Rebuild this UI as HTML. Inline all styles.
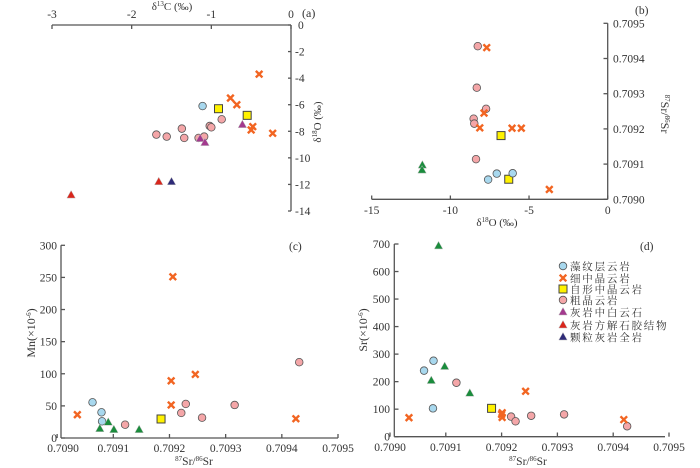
<!DOCTYPE html>
<html><head><meta charset="utf-8"><style>
html,body{margin:0;padding:0;background:#fff;}
svg{display:block;font-family:"Liberation Serif","Times New Roman",serif;}
.lg{font-family:"Liberation Serif","Noto Serif CJK SC",serif;font-size:10.5px;letter-spacing:1.8px;fill:#333}
</style></head><body>
<svg id="chart" width="700" height="468" viewBox="0 0 700 468" xmlns="http://www.w3.org/2000/svg"></svg>
<script>
// ---- data (panel a: δ13C vs δ18O) ----
const aBlueX=[-1.11], aBlueY=[-6.1];
const aYelX=[-0.91,-0.55], aYelY=[-6.3,-6.8];
const aOrX=[-0.40,-0.76,-0.68,-0.48,-0.50,-0.23], aOrY=[-3.7,-5.5,-6.0,-7.65,-7.9,-8.15];
const aPinkX=[-1.69,-1.56,-1.37,-1.34,-1.16,-1.09,-1.02,-1.00,-0.87], aPinkY=[-8.25,-8.4,-7.8,-8.5,-8.5,-8.4,-7.6,-7.7,-7.1];
const aMagX=[-1.14,-1.08,-0.61], aMagY=[-8.55,-8.85,-7.5];
const aRedX=[-1.66,-2.76], aRedY=[-11.8,-12.8];
const aNavX=[-1.50], aNavY=[-11.8];
const aXTicks=[-3,-2,-1,0], aYTicks=[0,-2,-4,-6,-8,-10,-12,-14];
// ---- panel b: δ18O vs 87Sr/86Sr ----
const bPinkX=[-8.26,-8.32,-7.73,-8.52,-8.48,-8.37], bPinkY=[0.709435,0.709317,0.709257,0.709229,0.709215,0.709114];
const bOrX=[-7.69,-7.86,-8.13,-6.08,-5.49,-3.71], bOrY=[0.709431,0.709245,0.709203,0.709202,0.709202,0.709028];
const bYelX=[-6.78,-6.29], bYelY=[0.709181,0.709057];
const bBlueX=[-7.60,-7.05,-6.04], bBlueY=[0.709056,0.709073,0.709074];
const bGrX=[-11.78,-11.8], bGrY=[0.709097,0.709083];
const bXTicks=[-15,-10,-5,0], bYTicks=[0.7090,0.7091,0.7092,0.7093,0.7094,0.7095];
// ---- panel c: 87Sr/86Sr vs Mn ----
const cBlueX=[0.709063,0.709079,0.709080], cBlueY=[55.6,40,26];
const cGrX=[0.709076,0.709091,0.709101,0.709146], cGrY=[14.5,24.5,13,13];
const cPinkX=[0.709121,0.709221,0.709229,0.709258,0.709316,0.709431], cPinkY=[20.7,39,53,31.6,51.4,118];
const cOrX=[0.709036,0.709206,0.709203,0.709203,0.709246,0.709425], cOrY=[36.3,251,89,51.4,99,30];
const cYelX=[0.709185], cYelY=[29.6];
const cYTicks=[0,50,100,150,200,250,300];
const srTicks=[0.7090,0.7091,0.7092,0.7093,0.7094,0.7095];
// ---- panel d: 87Sr/86Sr vs Sr ----
const dBlueX=[0.709061,0.709078,0.709077], dBlueY=[240,276,103];
const dGrX=[0.709087,0.709098,0.709074,0.709143], dGrY=[693,255,204,158];
const dPinkX=[0.709119,0.709217,0.709225,0.709253,0.709312,0.709425], dPinkY=[196,73,56,76,81,38];
const dOrX=[0.709034,0.709200,0.709201,0.709201,0.709243,0.709419], dOrY=[69,81,70,87,165,62];
const dYelX=[0.709182], dYelY=[103];
const dYTicks=[0,100,200,300,400,500,600,700];
const legendLabels=["藻纹层云岩","细中晶云岩","自形中晶云岩","粗晶云岩","灰岩中白云石","灰岩方解石胶结物","颗粒灰岩全岩"];
const legendKinds=["blue","or","yel","pink","mag","red","nav"];

const NS="http://www.w3.org/2000/svg";
const svg=document.getElementById('chart');
const C={blue:"#a8d8ee",or:"#f26522",yel:"#fff200",pink:"#f4a6a8",mag:"#a3398e",red:"#d9261c",nav:"#2e2a78",gr:"#1a8c3c"};
function el(t,a,p){const e=document.createElementNS(NS,t);for(const k in a)e.setAttribute(k,a[k]);(p||svg).appendChild(e);return e;}
function txt(x,y,s,o){const e=el('text',Object.assign({x:x,y:y,'font-size':11.5,fill:'#333'},o||{}));e.innerHTML=s;return e;}
function lin(d0,d1,r0,r1){return v=>r0+(v-d0)*(r1-r0)/(d1-d0);}
function mark(kind,x,y,name){
  let e;
  if(kind==='blue'||kind==='pink'){e=el('circle',{cx:x,cy:y,r:3.8,fill:C[kind],stroke:'#555','stroke-width':0.8});}
  else if(kind==='yel'){e=el('rect',{x:x-4,y:y-4,width:8,height:8,fill:C.yel,stroke:'#444','stroke-width':1});}
  else if(kind==='or'){e=el('path',{d:`M${x-3.3},${y-3.3}L${x+3.3},${y+3.3}M${x+3.3},${y-3.3}L${x-3.3},${y+3.3}`,stroke:C.or,'stroke-width':2.4,fill:'none'});}
  else {e=el('path',{d:`M${x},${y-4.5}L${x+4.2},${y+3}L${x-4.2},${y+3}Z`,fill:C[kind],stroke:'#bbb','stroke-width':0.5});}
  
  
  return e;
}
function series(kind,xs,ys,sx,sy,name){for(let i=0;i<xs.length;i++)mark(kind,sx(xs[i]),sy(ys[i]),name);}
function line(x1,y1,x2,y2,name){const e=el('line',{x1:x1,y1:y1,x2:x2,y2:y2,stroke:'#555','stroke-width':1.3});
  
  }

// Panel a
const ax=lin(-3,0,52,291), ay=lin(0,-14,25,211);
line(52,25,291,25,'a-x-axis'); line(291,25,291,211,'a-y-axis');
aXTicks.forEach(v=>{line(ax(v),25,ax(v),29,'a-x-tick');const t=txt(ax(v),18,String(v),{'text-anchor':'middle'});
  
  });
aYTicks.forEach(v=>{line(288,ay(v),291,ay(v),'a-y-tick');const t=txt(v===0?298:295,ay(v)+4,String(v));
  
  });
let t=txt(172,10,'δ<tspan font-size="7" dy="-4">13</tspan><tspan dy="4">C (‰)</tspan>',{'text-anchor':'middle','font-size':11});

t=txt(0,0,'δ<tspan font-size="7" dy="-4">18</tspan><tspan dy="4">O (‰)</tspan>',{'text-anchor':'middle','font-size':11,transform:'translate(321,122) rotate(-90)'});

t=txt(302,17,'(a)',{'font-size':12});
series('blue',aBlueX,aBlueY,ax,ay,'a-point-blue');series('pink',aPinkX,aPinkY,ax,ay,'a-point-pink');
series('yel',aYelX,aYelY,ax,ay,'a-point-yellow');series('or',aOrX,aOrY,ax,ay,'a-point-orange');
series('mag',aMagX,aMagY,ax,ay,'a-point-magenta');series('red',aRedX,aRedY,ax,ay,'a-point-red');series('nav',aNavX,aNavY,ax,ay,'a-point-navy');

// Panel b
const bx=lin(-15,0,371.7,607.7), by=lin(0.7090,0.7095,199.3,23.3);
line(371.7,199.3,607.7,199.3,'b-x-axis'); line(607.7,23.3,607.7,199.3,'b-y-axis');
bXTicks.forEach(v=>{line(bx(v),199.3,bx(v),195.5,'b-x-tick');const t=txt(bx(v),214,String(v),{'text-anchor':'middle'});
  });
bYTicks.forEach(v=>{line(603.5,by(v),607.7,by(v),'b-y-tick');const t=txt(613,by(v)+4,v.toFixed(4));
  });
t=txt(497,226,'δ<tspan font-size="7" dy="-4">18</tspan><tspan dy="4">O (‰)</tspan>',{'text-anchor':'middle','font-size':11});

t=txt(0,0,'<tspan font-size="7" dy="-4">87</tspan><tspan dy="4">Sr/</tspan><tspan font-size="7" dy="-4">86</tspan><tspan dy="4">Sr</tspan>',{'text-anchor':'middle','font-size':12,transform:'translate(661,114) rotate(90)'});

t=txt(635,14,'(b)');
series('pink',bPinkX,bPinkY,bx,by,'b-point-pink');series('or',bOrX,bOrY,bx,by,'b-point-orange');
series('yel',bYelX,bYelY,bx,by,'b-point-yellow');series('blue',bBlueX,bBlueY,bx,by,'b-point-blue');series('gr',bGrX,bGrY,bx,by,'b-point-green');

// Panel c
const cx=lin(0.7091,0.7095,113.3,338), cy=lin(0,300,438,245.3);
line(61,438,338,438,'c-x-axis'); line(61,245.3,61,438,'c-y-axis');
srTicks.forEach(v=>{line(cx(v),438,cx(v),434,'c-x-tick');const t=txt(v===0.7090?63:cx(v),452,v.toFixed(4),{'text-anchor':'middle'});
  });
cYTicks.forEach(v=>{line(61,cy(v),65,cy(v),'c-y-tick');const t=txt(57,cy(v)+4,String(v),{'text-anchor':'end'});
  });
t=txt(194,465,'<tspan font-size="7" dy="-4">87</tspan><tspan dy="4">Sr/</tspan><tspan font-size="7" dy="-4">86</tspan><tspan dy="4">Sr</tspan>',{'text-anchor':'middle'});

t=txt(0,0,'Mn(×10<tspan font-size="7" dy="-4">-6</tspan><tspan dy="4">)</tspan>',{'text-anchor':'middle','font-size':12,transform:'translate(35,333) rotate(-90)'});

t=txt(289,250,'(c)');
series('blue',cBlueX,cBlueY,cx,cy,'c-point-blue');series('gr',cGrX,cGrY,cx,cy,'c-point-green');
series('pink',cPinkX,cPinkY,cx,cy,'c-point-pink');series('or',cOrX,cOrY,cx,cy,'c-point-orange');series('yel',cYelX,cYelY,cx,cy,'c-point-yellow');

// Panel d
const dx=lin(0.7090,0.7095,390,669), dy=lin(0,700,436.7,244);
line(394.3,436.7,665,436.7,'d-x-axis'); line(394.3,244,394.3,436.7,'d-y-axis');
srTicks.forEach(v=>{line(dx(v),436.7,dx(v),432.5,'d-x-tick');const t=txt(dx(v),451,v.toFixed(4),{'text-anchor':'middle'});
  });
dYTicks.forEach(v=>{line(394.3,dy(v),398.5,dy(v),'d-y-tick');const t=txt(390,dy(v)+4,String(v),{'text-anchor':'end'});
  });
t=txt(528,465,'<tspan font-size="7" dy="-4">87</tspan><tspan dy="4">Sr/</tspan><tspan font-size="7" dy="-4">86</tspan><tspan dy="4">Sr</tspan>',{'text-anchor':'middle'});

t=txt(0,0,'Sr(×10<tspan font-size="7" dy="-4">-6</tspan><tspan dy="4">)</tspan>',{'text-anchor':'middle','font-size':12,transform:'translate(367,330) rotate(-90)'});

t=txt(640,250,'(d)');
series('blue',dBlueX,dBlueY,dx,dy,'d-point-blue');series('gr',dGrX,dGrY,dx,dy,'d-point-green');
series('pink',dPinkX,dPinkY,dx,dy,'d-point-pink');series('or',dOrX,dOrY,dx,dy,'d-point-orange');series('yel',dYelX,dYelY,dx,dy,'d-point-yellow');

// Legend
const legY=[266,278,289,300,312,325,337];
legendLabels.forEach((s,i)=>{
  mark(legendKinds[i],563,legY[i],'legend-marker');
  const e=txt(570,legY[i]+4,s,{class:'lg'});
  
  
});
</script>
</body></html>
